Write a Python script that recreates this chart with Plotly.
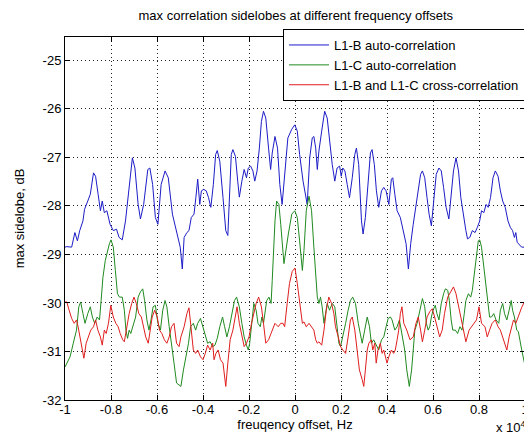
import plotly.graph_objects as go

# frequency offset in units of 1e4 Hz
blue_x = [-1.0, -0.992, -0.971, -0.957, -0.946, -0.936, -0.922, -0.915, -0.901, -0.890, -0.876, -0.867, -0.856, -0.846, -0.838, -0.829, -0.818, -0.804, -0.790, -0.776, -0.765, -0.751, -0.737, -0.721, -0.707, -0.696, -0.682, -0.672, -0.658, -0.640, -0.631, -0.619, -0.607, -0.596, -0.582, -0.565, -0.551, -0.533,
          -0.499, -0.490, -0.482, -0.470, -0.461, -0.451, -0.439, -0.431, -0.423, -0.414, -0.407, -0.397, -0.386, -0.376, -0.366, -0.355, -0.345, -0.338, -0.327, -0.313, -0.301, -0.292, -0.285, -0.277, -0.270, -0.259, -0.249, -0.242, -0.231, -0.221, -0.211, -0.203, -0.193, -0.183, -0.175, -0.165, -0.155, -0.146, -0.137, -0.127, -0.115, -0.106, -0.099, -0.087, -0.076, -0.066, -0.056, -0.045,
          -0.031, -0.014, -0.001,
          0.010, 0.020, 0.035, 0.046, 0.053, 0.064, 0.075, 0.082, 0.090, 0.097, 0.104, 0.116, 0.129, 0.140, 0.150, 0.162, 0.173, 0.183, 0.194, 0.201, 0.208, 0.217, 0.227, 0.237, 0.249, 0.260, 0.267, 0.277, 0.289, 0.296, 0.306, 0.318, 0.328, 0.335, 0.345, 0.354, 0.364, 0.376, 0.386, 0.396, 0.408, 0.419, 0.425, 0.434, 0.444, 0.458,
          0.474, 0.483, 0.493, 0.503, 0.514, 0.526, 0.536, 0.546, 0.554, 0.564, 0.574, 0.583, 0.593, 0.603, 0.614, 0.626, 0.636, 0.646, 0.657, 0.669, 0.679, 0.689, 0.700, 0.711, 0.721, 0.731, 0.743, 0.750, 0.760, 0.771, 0.783, 0.793, 0.803, 0.811, 0.821, 0.831, 0.840, 0.850, 0.861, 0.871, 0.883, 0.893, 0.903, 0.914, 0.926, 0.936, 0.946, 0.954, 0.960, 0.966, 0.971, 0.985, 1.0]
blue_y = [-28.85, -28.84, -28.85, -28.55, -28.72, -28.51, -28.31, -28.07, -27.90, -27.76, -27.32, -27.39, -27.76, -28.10, -27.90, -28.14, -28.10, -28.38, -28.51, -28.48, -28.65, -28.70, -28.31, -27.56, -27.01, -27.22, -27.97, -28.27, -27.97, -27.25, -27.22, -27.56, -28.24, -28.38, -27.56, -27.28, -27.42, -28.17,
          -28.85, -29.30, -28.65, -28.55, -28.51, -28.24, -28.17, -27.83, -27.45, -27.97, -27.69, -27.66, -27.69, -27.83, -28.03, -27.56, -26.94, -26.86, -27.08, -27.83, -28.51, -28.61, -27.83, -26.94, -26.84, -26.98, -27.49, -27.82, -27.49, -27.25, -27.42, -27.22, -27.18, -27.28, -27.49, -27.28, -26.81, -26.26, -26.05, -26.19, -26.81, -27.25, -26.91, -26.57, -26.81, -27.56, -27.97, -27.28,
          -26.60, -26.42, -26.33,
          -26.46, -26.94, -27.49, -27.83, -27.97, -27.01, -26.60, -26.57, -26.81, -27.25, -26.87, -26.46, -26.05, -26.19, -26.67, -27.15, -27.49, -27.22, -27.18, -27.39, -27.22, -27.28, -27.56, -27.83, -27.42, -26.94, -26.81, -27.15, -28.31, -28.58, -28.24, -27.49, -26.91, -26.84, -27.15, -27.69, -28.03, -27.69, -27.62, -27.69, -27.97, -27.45, -27.42, -27.76, -28.10, -28.24,
          -28.55, -28.78, -29.30, -28.78, -28.38, -27.97, -27.62, -27.35, -27.28, -27.42, -27.83, -28.17, -28.41, -27.83, -27.35, -27.22, -27.28, -27.62, -28.03, -28.27, -27.83, -27.28, -27.01, -27.28, -27.83, -28.17, -28.51, -28.68, -28.65, -28.51, -28.55, -28.44, -28.31, -28.10, -28.14, -27.97, -28.03, -27.83, -27.42, -27.28, -27.39, -27.69, -27.90, -28.03, -28.31, -28.44, -28.51, -28.65, -28.55, -28.75, -28.78, -28.85, -28.85]

green_x = [-1.0, -0.992, -0.978, -0.964, -0.950, -0.940, -0.932, -0.922, -0.913, -0.901, -0.890, -0.881, -0.871, -0.860, -0.850, -0.843, -0.835, -0.825, -0.815, -0.807, -0.800, -0.790, -0.781, -0.772, -0.763, -0.751, -0.742, -0.735, -0.728, -0.721, -0.714, -0.704, -0.693, -0.682, -0.672, -0.662, -0.654, -0.644, -0.635, -0.626, -0.617, -0.607, -0.596, -0.585, -0.575, -0.565, -0.557, -0.547, -0.537, -0.526, -0.515,
           -0.496, -0.485, -0.475, -0.463, -0.454, -0.442, -0.432, -0.423, -0.411, -0.401, -0.390, -0.380, -0.369, -0.358, -0.348, -0.338, -0.327, -0.315, -0.306, -0.296, -0.285, -0.273, -0.263, -0.254, -0.242, -0.231, -0.221, -0.211, -0.203, -0.197, -0.189, -0.179, -0.169, -0.161, -0.151, -0.144, -0.137, -0.130, -0.123, -0.113, -0.104, -0.099, -0.093, -0.087, -0.080, -0.070, -0.062, -0.055, -0.048,
           -0.029, -0.014, -0.001, 0.010, 0.020, 0.032, 0.039, 0.049, 0.061, 0.072, 0.082, 0.090, 0.097, 0.104, 0.111, 0.118, 0.126, 0.133, 0.140, 0.150, 0.162, 0.173, 0.184, 0.191, 0.198, 0.208, 0.220, 0.231, 0.241, 0.251, 0.263, 0.275, 0.285, 0.292, 0.303, 0.314, 0.324, 0.332, 0.342, 0.353, 0.364, 0.376, 0.386, 0.396, 0.405, 0.415, 0.422, 0.434, 0.444, 0.454, 0.465, 0.477,
           0.486, 0.497, 0.507, 0.514, 0.521, 0.531, 0.543, 0.554, 0.564, 0.571, 0.579, 0.586, 0.593, 0.600, 0.610, 0.617, 0.626, 0.636, 0.646, 0.654, 0.664, 0.671, 0.679, 0.686, 0.697, 0.707, 0.717, 0.726, 0.736, 0.743, 0.754, 0.764, 0.771, 0.779, 0.789, 0.797, 0.803, 0.811, 0.821, 0.831, 0.840, 0.846, 0.854, 0.864, 0.874, 0.886, 0.893, 0.903, 0.911, 0.921, 0.931, 0.940, 0.946, 0.954, 0.964, 0.971, 0.985, 1.0]
green_y = [-31.32, -31.24, -31.11, -30.83, -30.56, -30.08, -29.98, -30.22, -30.42, -30.22, -30.08, -30.29, -30.42, -30.29, -30.35, -29.95, -29.47, -29.13, -28.92, -28.78, -28.70, -28.85, -29.33, -29.81, -29.88, -29.88, -30.15, -30.56, -30.73, -30.56, -30.63, -30.49, -30.29, -29.88, -29.77, -29.71, -29.95, -30.35, -30.56, -30.35, -30.08, -30.05, -30.42, -30.56, -30.15, -29.95, -30.08, -30.49, -30.90, -31.24, -31.65,
           -31.72, -31.38, -31.11, -30.83, -30.49, -30.42, -30.56, -30.42, -30.32, -30.49, -30.70, -30.83, -30.80, -30.90, -30.87, -30.73, -30.49, -30.29, -30.49, -30.70, -30.49, -30.15, -29.95, -29.88, -30.08, -30.42, -30.70, -30.87, -30.97, -30.83, -30.42, -30.01, -30.15, -30.42, -30.49, -30.29, -30.42, -30.22, -29.95, -29.88, -30.01, -29.54, -28.85, -28.31, -27.90, -27.97, -28.38, -28.78, -29.19,
           -28.58, -28.17, -28.10, -28.24, -28.72, -29.33, -28.92, -28.10, -27.80, -28.10, -28.85, -29.47, -29.88, -30.01, -29.88, -30.08, -30.42, -30.22, -30.01, -30.15, -30.01, -30.08, -30.49, -30.83, -30.90, -30.70, -30.42, -30.15, -29.95, -29.88, -30.01, -30.42, -30.70, -30.83, -30.56, -30.29, -30.49, -30.83, -30.76, -30.87, -30.97, -30.76, -30.70, -30.49, -30.32, -30.29, -30.35, -30.56, -30.49, -30.35, -30.63, -30.97,
           -31.38, -31.72, -31.38, -30.97, -30.56, -30.42, -30.15, -29.91, -30.08, -30.42, -30.56, -30.49, -30.29, -30.15, -30.05, -30.22, -30.35, -30.01, -29.81, -29.71, -29.74, -29.95, -30.35, -30.56, -30.56, -30.63, -30.49, -30.56, -30.22, -29.95, -29.81, -29.88, -29.74, -29.40, -28.99, -28.72, -28.70, -28.85, -29.26, -29.67, -30.08, -30.29, -30.29, -30.22, -30.35, -30.42, -30.15, -30.01, -30.22, -30.35, -30.15, -29.95, -30.15, -30.29, -30.56, -30.59, -30.95, -31.30]

red_x = [-1.0, -0.992, -0.982, -0.971, -0.960, -0.950, -0.943, -0.932, -0.922, -0.918, -0.908, -0.899, -0.888, -0.876, -0.867, -0.857, -0.846, -0.838, -0.829, -0.821, -0.811, -0.801, -0.790, -0.779, -0.769, -0.760, -0.749, -0.742, -0.732, -0.721, -0.710, -0.700, -0.690, -0.679, -0.668, -0.658, -0.649, -0.638, -0.629, -0.621, -0.610, -0.599, -0.589, -0.579, -0.568, -0.557, -0.547, -0.537, -0.526, -0.515, -0.504,
         -0.496, -0.482, -0.470, -0.461, -0.454, -0.442, -0.432, -0.423, -0.411, -0.400, -0.390, -0.380, -0.369, -0.358, -0.352, -0.344, -0.334, -0.324, -0.313, -0.301, -0.292, -0.282, -0.270, -0.259, -0.252, -0.242, -0.231, -0.221, -0.211, -0.200, -0.189, -0.179, -0.169, -0.158, -0.146, -0.137, -0.127, -0.115, -0.104, -0.094, -0.087, -0.073, -0.062, -0.052, -0.045, -0.034, -0.024,
         -0.012, 0.0, 0.010, 0.020, 0.032, 0.039, 0.049, 0.061, 0.072, 0.082, 0.090, 0.097, 0.104, 0.116, 0.126, 0.136, 0.147, 0.159, 0.169, 0.176, 0.188, 0.198, 0.208, 0.220, 0.231, 0.241, 0.249, 0.260, 0.270, 0.280, 0.292, 0.299, 0.306, 0.314, 0.321, 0.332, 0.338, 0.347, 0.353, 0.361, 0.371, 0.379, 0.386, 0.393, 0.400, 0.408, 0.419, 0.429, 0.436, 0.444, 0.451, 0.458, 0.465, 0.473,
         0.486, 0.500, 0.514, 0.526, 0.536, 0.546, 0.554, 0.564, 0.574, 0.586, 0.597, 0.607, 0.617, 0.629, 0.640, 0.650, 0.664, 0.679, 0.689, 0.700, 0.711, 0.721, 0.731, 0.743, 0.757, 0.769, 0.779, 0.789, 0.800, 0.811, 0.826, 0.836, 0.846, 0.857, 0.871, 0.883, 0.893, 0.903, 0.914, 0.921, 0.931, 0.943, 0.950, 0.960, 0.969, 0.985, 1.0]
red_y = [-29.98, -29.98, -30.15, -30.32, -30.42, -30.35, -30.49, -30.76, -30.97, -31.14, -30.83, -30.70, -30.56, -30.49, -30.35, -30.56, -30.70, -30.87, -30.56, -30.63, -30.42, -30.05, -30.29, -30.42, -30.49, -30.63, -30.76, -30.80, -30.49, -30.22, -30.01, -29.88, -30.01, -30.22, -30.29, -30.49, -30.70, -30.83, -30.56, -30.29, -30.15, -30.29, -30.56, -30.63, -30.76, -30.83, -30.70, -30.49, -30.42, -30.83, -30.90,
         -30.70, -30.49, -30.22, -30.10, -30.42, -30.97, -31.04, -30.97, -31.11, -31.17, -31.04, -30.87, -30.97, -30.83, -31.17, -31.04, -30.97, -31.17, -31.24, -31.72, -31.24, -30.76, -30.56, -30.22, -30.08, -30.42, -30.70, -30.90, -30.83, -30.70, -30.42, -30.22, -30.01, -29.88, -30.08, -30.42, -30.83, -30.76, -30.63, -30.49, -30.42, -30.49, -30.42, -30.42, -30.49, -30.01, -29.60,
         -29.35, -29.28, -29.60, -30.01, -30.42, -30.39, -30.49, -30.42, -30.49, -30.56, -30.76, -30.83, -30.80, -30.87, -30.56, -30.15, -29.88, -30.01, -30.22, -30.49, -30.70, -30.90, -30.97, -31.04, -30.70, -30.35, -30.29, -30.56, -30.97, -31.38, -31.58, -31.72, -31.38, -30.97, -30.83, -30.76, -30.97, -30.83, -31.24, -30.97, -30.83, -31.04, -30.97, -31.11, -31.24, -31.11, -30.97, -31.04, -30.97, -30.76, -30.56, -30.22, -30.08, -30.42,
         -30.56, -30.76, -30.70, -30.42, -30.29, -30.56, -30.80, -30.56, -30.29, -30.18, -30.12, -30.29, -30.49, -30.70, -30.56, -30.22, -29.88, -29.74, -29.67, -29.81, -30.08, -30.29, -30.56, -30.80, -30.56, -30.49, -30.42, -30.35, -30.08, -30.42, -30.49, -30.70, -30.56, -30.42, -30.35, -30.49, -30.56, -30.70, -30.83, -30.97, -30.70, -30.49, -30.35, -30.42, -30.29, -30.10, -29.95]

series_names = ["L1-B auto-correlation", "L1-C auto-correlation", "L1-B and L1-C cross-correlation"]
x_ticks = [-1, -0.8, -0.6, -0.4, -0.2, 0, 0.2, 0.4, 0.6, 0.8, 1]
x_tick_text = ["-1", "-0.8", "-0.6", "-0.4", "-0.2", "0", "0.2", "0.4", "0.6", "0.8", "1"]
y_ticks = [-32, -31, -30, -29, -28, -27, -26, -25]
y_tick_text = ["-32", "-31", "-30", "-29", "-28", "-27", "-26", "-25"]

FONT = "Liberation Sans, Arial, Helvetica, sans-serif"
FS = 13
colors = ["#1c1cc8", "#1f8a1f", "#e01e1e"]

fig = go.Figure()
for xs, ys, name, c in zip([blue_x, green_x, red_x], [blue_y, green_y, red_y], series_names, colors):
    fig.add_trace(go.Scatter(x=xs, y=ys, mode="lines", name=name,
                             line=dict(color=c, width=1)))

axis_common = dict(
    showline=True, linecolor="black", linewidth=1, mirror="ticks",
    ticks="inside", ticklen=5, tickcolor="black", tickwidth=1,
    showgrid=True, gridcolor="#222222", gridwidth=1, griddash="1px,3px",
    zeroline=False, tickfont=dict(family=FONT, size=FS, color="black"),
)

fig.update_layout(
    width=532, height=434,
    margin=dict(l=57, r=11, t=29, b=42),
    paper_bgcolor="white", plot_bgcolor="white",
    font=dict(family=FONT, size=FS, color="black"),
    title=dict(text="max correlation sidelobes at different frequency offsets",
               x=0.541, xanchor="center", y=0.984, yanchor="middle",
               font=dict(family=FONT, size=FS, color="black")),
    xaxis=dict(range=[-1, 1], tickvals=x_ticks, ticktext=x_tick_text,
               ticklabelstandoff=-3,
               title=dict(text="freuqency offset, Hz", standoff=2,
                          font=dict(family=FONT, size=FS, color="black")),
               **axis_common),
    yaxis=dict(range=[-32, -24.52], tickvals=y_ticks, ticktext=y_tick_text,
               title=dict(text="max sidelobe, dB", standoff=15,
                          font=dict(family=FONT, size=FS, color="black")),
               **axis_common),
    legend=dict(x=1, xanchor="right", y=1.022, yanchor="top",
                bgcolor="white", bordercolor="black", borderwidth=1,
                font=dict(family=FONT, size=FS, color="black"),
                tracegroupgap=0, itemwidth=40),
    showlegend=True,
)

fig.add_annotation(text="x 10<sup>4</sup>", xref="paper", yref="paper",
                   x=1.006, xanchor="right", y=-0.075, yanchor="middle",
                   showarrow=False, font=dict(family=FONT, size=FS, color="black"))

fig.write_html("out.html")
